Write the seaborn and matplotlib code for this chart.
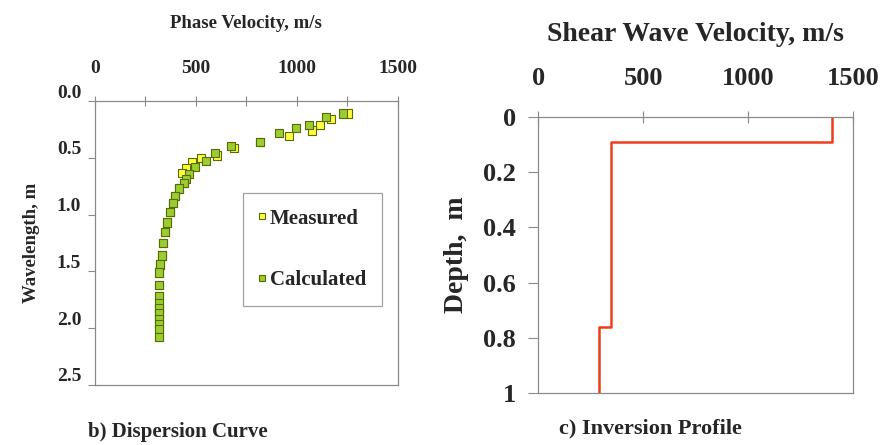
import numpy as np
import pandas as pd
import matplotlib
matplotlib.use("Agg")
import matplotlib.pyplot as plt
import matplotlib.transforms as mtransforms
import seaborn as sns

# ── Data ──────────────────────────────────────────────────────────────────────
# b) dispersion curve: phase velocity (m/s) vs wavelength (m)
meas_vel = [1252, 1168, 1114, 1075, 960, 817, 688, 604, 525, 480, 450, 430,
            441, 416, 396, 386, 371, 356, 346, 337, 331, 322, 317, 317,
            317, 317, 317, 317, 317, 317]
meas_wl = [0.11, 0.16, 0.21, 0.26, 0.31, 0.36, 0.41, 0.48, 0.50, 0.54, 0.59, 0.63,
           0.72, 0.77, 0.84, 0.90, 0.98, 1.07, 1.15, 1.25, 1.36, 1.44, 1.51, 1.62,
           1.72, 1.82, 1.87, 1.92, 2.01, 2.08]
calc_vel = [1228, 1144, 1060, 995, 911, 817, 673, 594, 550, 495, 466, 451,
            441, 416, 396, 386, 371, 356, 346, 337, 331, 322, 317, 317,
            317, 317, 317, 317, 317, 317, 317, 317]
calc_wl = [0.11, 0.14, 0.21, 0.24, 0.28, 0.36, 0.40, 0.46, 0.53, 0.58, 0.64, 0.69,
           0.72, 0.77, 0.84, 0.90, 0.98, 1.07, 1.15, 1.25, 1.36, 1.44, 1.51, 1.62,
           1.72, 1.78, 1.82, 1.87, 1.92, 1.96, 2.01, 2.08]

# c) inversion profile: layer shear-wave velocities and interface depths
layer_vs = [1400, 345, 290]
layer_top = [0.0, 0.09, 0.76]
profile_bottom = 1.0

# ── Style ──────────────────────────────────────────────────────────────────────
sns.set_theme(style="white")
plt.rcParams["font.family"] = ["Liberation Serif", "DejaVu Serif"]
plt.rcParams["font.weight"] = "bold"
GREY = "#8a8a8a"

fig = plt.figure(figsize=(8.88, 4.45), dpi=100)
ax1 = fig.add_axes([0.107, 0.135, 0.341, 0.638])
ax2 = fig.add_axes([0.606, 0.117, 0.355, 0.620])

# ── b) Dispersion curve ───────────────────────────────────────────────────────
disp = pd.concat([
    pd.DataFrame({"vel": meas_vel, "wl": meas_wl, "kind": "Measured"}),
    pd.DataFrame({"vel": calc_vel, "wl": calc_wl, "kind": "Calculated"}),
])
sns.scatterplot(data=disp, x="vel", y="wl", hue="kind", style="kind",
                palette={"Measured": "#ffff40", "Calculated": "#9acd32"},
                markers={"Measured": "s", "Calculated": "s"},
                s=34, edgecolor="#5a6b00", linewidth=0.8, ax=ax1)

ax1.set_xlim(0, 1500)
ax1.set_ylim(2.5, 0)
ax1.xaxis.set_ticks_position("top")
ax1.xaxis.set_label_position("top")
ax1.set_xticks(np.arange(0, 1501, 250), minor=True)
ax1.set_xticks([0, 500, 1000, 1500])
ax1.set_yticks(np.arange(0, 2.51, 0.5))
ax1.set_yticklabels([f"{v:.1f}" for v in np.arange(0, 2.51, 0.5)])
ax1.tick_params(axis="x", which="both", direction="inout", length=7, width=0.8,
                color=GREY, labelsize=14, pad=14)
ax1.tick_params(axis="y", direction="out", length=5, width=0.8, color=GREY,
                labelsize=14, left=True, pad=5)
# Excel-style: the wavelength labels sit a little above their ticks
lift = mtransforms.ScaledTranslation(0, 0.10, fig.dpi_scale_trans)
for lbl in ax1.get_yticklabels():
    lbl.set_transform(lbl.get_transform() + lift)
ax1.set_xlabel("Phase Velocity, m/s", fontsize=13.5, fontweight="bold",
               labelpad=23)
ax1.set_ylabel("Wavelength, m", fontsize=13.5, fontweight="bold", labelpad=12)
for sp in ax1.spines.values():
    sp.set_color(GREY)
    sp.set_linewidth(0.9)

leg = ax1.legend(loc="upper left", bbox_to_anchor=(0.488, 0.676),
                 borderaxespad=0, frameon=True, fancybox=False,
                 edgecolor=GREY, fontsize=15, markerscale=0.75,
                 handlelength=0.3, handletextpad=0.25, labelspacing=2.0,
                 borderpad=0.75)
leg.get_frame().set_linewidth(0.9)
for t in leg.get_texts():
    t.set_fontweight("bold")

fig.text(0.2, 0.03, "b) Dispersion Curve", fontsize=15, fontweight="bold",
         ha="center", va="center")

# ── c) Inversion profile ──────────────────────────────────────────────────────
bounds = layer_top + [profile_bottom]
prof = pd.DataFrame({
    "vs": np.repeat(layer_vs, 2),
    "depth": np.ravel([[bounds[i], bounds[i + 1]] for i in range(len(layer_vs))]),
})
sns.lineplot(data=prof, x="vs", y="depth", sort=False, estimator=None,
             color="#ee3d1a", linewidth=1.8, ax=ax2)

ax2.set_xlim(0, 1500)
ax2.set_ylim(1, 0)
ax2.xaxis.set_ticks_position("top")
ax2.xaxis.set_label_position("top")
ax2.set_xticks([0, 500, 1000, 1500])
ax2.set_yticks([0, 0.2, 0.4, 0.6, 0.8, 1.0])
ax2.set_yticklabels(["0", "0.2", "0.4", "0.6", "0.8", "1"])
ax2.tick_params(axis="x", direction="inout", length=9, width=0.8, color=GREY,
                labelsize=19, pad=15)
ax2.tick_params(axis="y", direction="out", length=7, width=0.8, color=GREY,
                labelsize=19, left=True, pad=9)
ax2.set_xlabel("Shear Wave Velocity, m/s", fontsize=20, fontweight="bold",
               labelpad=19)
ax2.set_ylabel("Depth,  m", fontsize=20, fontweight="bold", labelpad=10)
for sp in ax2.spines.values():
    sp.set_color(GREY)
    sp.set_linewidth(0.9)

fig.text(0.732, 0.038, "c) Inversion Profile", fontsize=16, fontweight="bold",
         ha="center", va="center")

fig.savefig("out.png", dpi=100)
